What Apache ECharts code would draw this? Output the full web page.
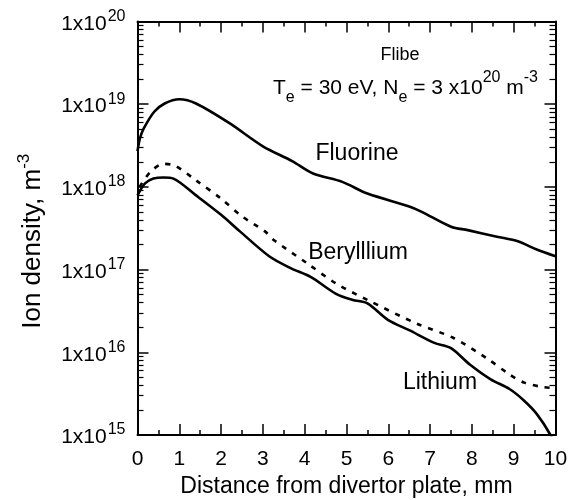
<!DOCTYPE html>
<html>
<head>
<meta charset="utf-8">
<script src="https://cdn.jsdelivr.net/npm/echarts@6/dist/echarts.min.js"></script>
<style>
  html, body { margin: 0; padding: 0; background: #fff; }
  #chart { width: 569px; height: 500px; }
</style>
</head>
<body>
<div id="chart"></div>
<script>
// distance from divertor plate, mm  /  ion density, m^-3
const fluorineX = [0, 0.06, 0.15, 0.4, 0.65, 1.0, 1.4, 2.2, 3.0, 3.7, 4.2, 4.9, 5.5, 6.5, 6.8, 7.5, 7.9, 8.6, 9.1, 9.55, 10]
const fluorineY = [2.7e18, 3.9e18, 5.1e18, 8.1e18, 1.02e19, 1.15e19, 1.02e19, 5.9e18, 3.1e18, 2.05e18, 1.45e18, 1.15e18, 8.3e17, 5.8e17, 5.0e17, 3.3e17, 3.0e17, 2.5e17, 2.2e17, 1.75e17, 1.45e17]

const berylliumX = [0.05, 0.3, 0.62, 0.9, 1.4, 2.0, 2.5, 3.05, 3.25, 4.05, 4.75, 5.5, 6.7, 7.55, 8.35, 8.9, 9.25, 9.7, 10]
const berylliumY = [1.0e18, 1.5e18, 1.9e18, 1.8e18, 1.2e18, 7.2e17, 4.4e17, 2.9e17, 2.3e17, 1.2e17, 6.8e16, 4.3e16, 2.2e16, 1.5e16, 8.5e15, 5.4e15, 4.3e15, 3.8e15, 3.7e15]

const lithiumX = [0, 0.18, 0.38, 0.62, 0.86, 1.4, 2.0, 2.45, 3.15, 3.65, 4.15, 4.75, 5.15, 5.5, 6.0, 6.5, 7.1, 7.5, 7.95, 8.45, 8.9, 9.25, 9.55, 9.88, 10]
const lithiumY = [7.9e17, 1.1e18, 1.26e18, 1.3e18, 1.26e18, 7.9e17, 4.6e17, 2.9e17, 1.45e17, 1.05e17, 8.1e16, 5.1e16, 4.3e16, 3.9e16, 2.45e16, 1.85e16, 1.3e16, 1.12e16, 7.1e15, 4.7e15, 3.6e15, 2.6e15, 1.8e15, 1.0e15, 7e14]

const majorTicks = [1e15, 1e16, 1e17, 1e18, 1e19, 1e20]
const minorTicks = []
majorTicks.slice(0, 5).forEach(d => {
  for (let k = 2; k <= 9; k++) minorTicks.push(k * d)
})

const FONT = 'Liberation Sans'

function pairs(xs, ys) {
  return xs.map((x, i) => [x, ys[i]])
}

const chart = echarts.init(document.getElementById('chart'))

const xBase = {
  type: 'value',
  min: 0,
  max: 10,
  interval: 1,
  splitLine: { show: false },
  axisLine: { lineStyle: { color: '#000', width: 2 } },
  axisTick: { inside: true, length: 11, lineStyle: { color: '#000', width: 1.5 } },
  minorTick: { show: true, splitNumber: 2, length: 5, lineStyle: { color: '#000', width: 1.5 } },
  minorSplitLine: { show: false }
}

const yBase = {
  type: 'log',
  logBase: 10,
  min: 1e15,
  max: 1e20,
  splitLine: { show: false },
  axisLine: { show: true, lineStyle: { color: '#000', width: 2 } },
  axisTick: { inside: true, length: 11, customValues: majorTicks, lineStyle: { color: '#000', width: 1.5 } },
  axisLabel: { show: false }
}

const yMinor = {
  type: 'log',
  logBase: 10,
  min: 1e15,
  max: 1e20,
  splitLine: { show: false },
  axisLine: { show: false },
  axisTick: { inside: true, length: 6, customValues: minorTicks, lineStyle: { color: '#000', width: 1.2 } },
  axisLabel: { show: false }
}

const option = {
  animation: false,
  backgroundColor: '#fff',
  grid: { left: 137.5, right: 13.5, top: 21.5, bottom: 65, containLabel: false, outerBoundsMode: 'none' },
  xAxis: [
    Object.assign({}, xBase, {
      position: 'bottom',
      axisLabel: { color: '#000', fontFamily: FONT, fontSize: 21, margin: 14 },
      name: 'Distance from divertor plate, mm',
      nameLocation: 'middle',
      nameGap: 40,
      nameTextStyle: { color: '#000', fontFamily: FONT, fontSize: 23 }
    }),
    Object.assign({}, xBase, {
      position: 'top',
      axisLabel: { show: false }
    })
  ],
  yAxis: [
    Object.assign({}, yBase, {
      position: 'left',
      axisLabel: {
        show: true,
        customValues: majorTicks,
        margin: 12,
        color: '#000',
        fontFamily: FONT,
        formatter: function (v) {
          return '{b|1x10}{s|' + Math.round(Math.log10(v)) + '}'
        },
        rich: {
          b: { fontSize: 21, fontFamily: FONT, color: '#000', lineHeight: 26, verticalAlign: 'bottom' },
          s: { fontSize: 16, fontFamily: FONT, color: '#000', lineHeight: 16, verticalAlign: 'top', padding: [0, 0, 0, 1] }
        }
      },
      name: '{b|Ion density, m}{s|-3}',
      nameLocation: 'middle',
      nameGap: 92,
      nameTextStyle: {
        color: '#000',
        fontFamily: FONT,
        padding: [0, 26, 0, 0],
        rich: {
          b: { fontSize: 26, fontFamily: FONT, color: '#000', lineHeight: 30, verticalAlign: 'bottom' },
          s: { fontSize: 17, fontFamily: FONT, color: '#000', lineHeight: 17, verticalAlign: 'top' }
        }
      }
    }),
    Object.assign({}, yMinor, { position: 'left' }),
    Object.assign({}, yBase, { position: 'right' }),
    Object.assign({}, yMinor, { position: 'right' })
  ],
  series: [
    {
      name: 'Fluorine',
      type: 'line',
      data: pairs(fluorineX, fluorineY),
      smooth: 0.3,
      showSymbol: false,
      lineStyle: { color: '#000', width: 2.6 }
    },
    {
      name: 'Beryllium',
      type: 'line',
      data: pairs(berylliumX, berylliumY),
      smooth: 0.3,
      showSymbol: false,
      lineStyle: { color: '#000', width: 2.6, type: [5, 7] }
    },
    {
      name: 'Lithium',
      type: 'line',
      data: pairs(lithiumX, lithiumY),
      smooth: 0.3,
      showSymbol: false,
      lineStyle: { color: '#000', width: 2.6 }
    }
  ],
  graphic: [
    {
      type: 'text', x: 400, y: 55,
      style: { text: 'Flibe', fontFamily: FONT, fontSize: 18, fill: '#000', align: 'center', verticalAlign: 'middle' }
    },
    {
      type: 'text', x: 273, y: 88,
      style: {
        text: '{m|T}{d|e}{m| = 30 eV, N}{d|e}{m| = 3 x10}{u|20}{m| m}{u|-3}',
        align: 'left',
        verticalAlign: 'middle',
        rich: {
          m: { fontFamily: FONT, fontSize: 21, fill: '#000', lineHeight: 36, verticalAlign: 'middle' },
          d: { fontFamily: FONT, fontSize: 16, fill: '#000', lineHeight: 16, verticalAlign: 'bottom' },
          u: { fontFamily: FONT, fontSize: 16, fill: '#000', lineHeight: 16, verticalAlign: 'top' }
        }
      }
    },
    {
      type: 'text', x: 357, y: 154,
      style: { text: 'Fluorine', fontFamily: FONT, fontSize: 23, fill: '#000', align: 'center', verticalAlign: 'middle' }
    },
    {
      type: 'text', x: 358, y: 253,
      style: { text: 'Berylllium', fontFamily: FONT, fontSize: 23, fill: '#000', align: 'center', verticalAlign: 'middle' }
    },
    {
      type: 'text', x: 440, y: 383,
      style: { text: 'Lithium', fontFamily: FONT, fontSize: 23, fill: '#000', align: 'center', verticalAlign: 'middle' }
    }
  ]
}

chart.setOption(option)
</script>
</body>
</html>
